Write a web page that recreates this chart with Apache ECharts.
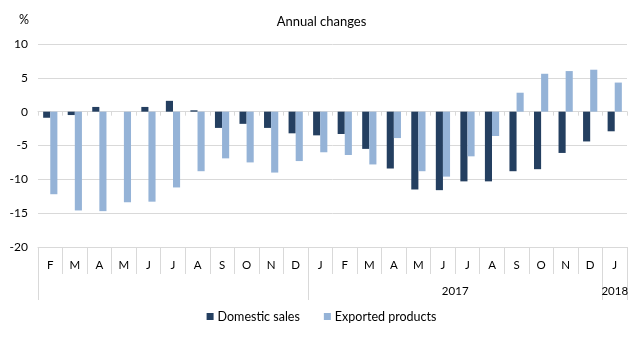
<!DOCTYPE html>
<html>
<head>
<meta charset="utf-8">
<script src="https://cdn.jsdelivr.net/npm/echarts@6/dist/echarts.min.js"></script>
<style>
  html, body { margin: 0; padding: 0; background: #fff; }
  #chart { width: 643px; height: 338px; }
</style>
</head>
<body>
<div id="chart"></div>
<script>
// Month labels, Feb 2016 to Jan 2018
const months = ['F','M','A','M','J','J','A','S','O','N','D','J','F','M','A','M','J','J','A','S','O','N','D','J'];
// Annual changes in %
const domesticSales = [-0.9,-0.5,0.7,0,0.7,1.6,0.2,-2.4,-1.8,-2.4,-3.2,-3.5,-3.3,-5.5,-8.4,-11.5,-11.6,-10.3,-10.3,-8.8,-8.5,-6.1,-4.4,-2.9];
const exportedProducts = [-12.2,-14.6,-14.7,-13.4,-13.3,-11.2,-8.8,-6.9,-7.5,-9.0,-7.3,-6.0,-6.4,-7.8,-3.9,-8.8,-9.6,-6.6,-3.6,2.8,5.6,6.0,6.2,4.3];
// Year groups: label centre and boundaries on the month scale
const yearLabels = { 17: '2017', 23.5: '2018' };
const yearBoundaries = [0, 11, 23, 24];
const yTicks = { min: -20, max: 10, step: 5 };

const font = 'Lato, "Open Sans", sans-serif';
const gridColor = '#d9d9d9';

const chart = echarts.init(document.getElementById('chart'));
chart.setOption({
  animation: false,
  textStyle: { fontFamily: font },
  title: [
    { text: 'Annual changes', left: 'center', top: 10,
      textStyle: { fontFamily: font, fontSize: 13, fontWeight: 'normal', color: '#000' } },
    { text: '%', left: 14, top: 8,
      textStyle: { fontFamily: font, fontSize: 12.5, fontWeight: 'normal', color: '#000' } }
  ],
  legend: {
    bottom: 10, left: 'center', itemWidth: 7, itemHeight: 7, itemGap: 24,
    icon: 'rect',
    textStyle: { fontFamily: font, fontSize: 12.5, color: '#000', padding: [0, 0, 0, -1] },
    data: ['Domestic sales', 'Exported products']
  },
  grid: { left: 38, right: 16, top: 44, bottom: 91 },
  xAxis: [
    {
      type: 'category', data: months, position: 'bottom',
      axisLine: { onZero: false, lineStyle: { color: gridColor } },
      axisTick: { show: true, interval: 0, length: 27, lineStyle: { color: gridColor } },
      axisLabel: { interval: 0, margin: 12, fontSize: 11.5, color: '#000', fontFamily: font }
    },
    {
      type: 'value', min: 0, max: 24, position: 'bottom',
      axisLine: { show: false, onZero: false },
      splitLine: { show: false },
      axisTick: { show: true, length: 53, customValues: yearBoundaries, lineStyle: { color: gridColor } },
      axisLabel: {
        margin: 38, fontSize: 11.5, color: '#000', fontFamily: font,
        customValues: Object.keys(yearLabels).map(Number),
        formatter: v => yearLabels[v] || ''
      }
    },
    {
      type: 'category', data: months, position: 'bottom',
      axisLine: { onZero: true, lineStyle: { color: gridColor } },
      axisTick: { show: true, interval: 0, length: 4, lineStyle: { color: gridColor } },
      axisLabel: { show: false }
    }
  ],
  yAxis: {
    type: 'value', min: yTicks.min, max: yTicks.max, interval: yTicks.step,
    axisLine: { show: false }, axisTick: { show: false },
    axisLabel: { fontSize: 12, color: '#000', margin: 10, fontFamily: font },
    splitLine: { lineStyle: { color: gridColor } }
  },
  series: [
    { name: 'Domestic sales', type: 'bar', xAxisIndex: 0, data: domesticSales,
      barWidth: '29%', barGap: '0%', itemStyle: { color: '#243f60' } },
    { name: 'Exported products', type: 'bar', xAxisIndex: 0, data: exportedProducts,
      barWidth: '29%', barGap: '0%', itemStyle: { color: '#95b3d7' } }
  ]
});
</script>
</body>
</html>
